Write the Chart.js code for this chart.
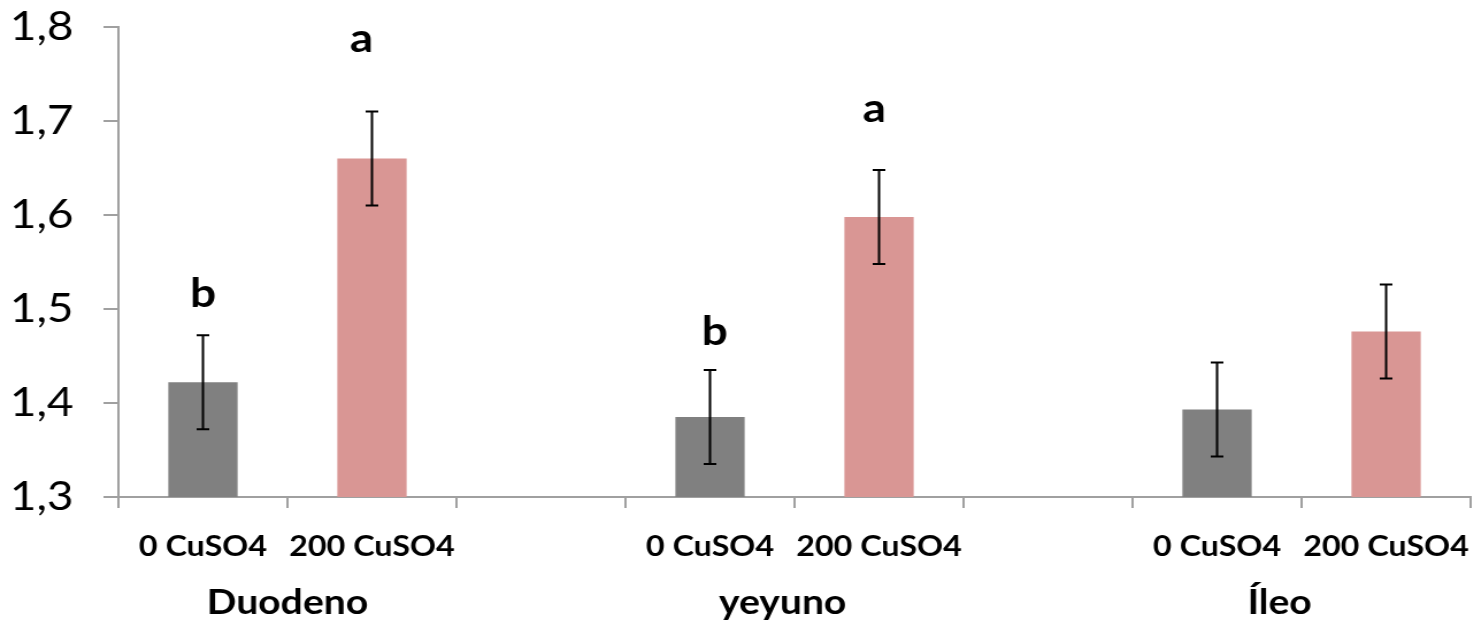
<!DOCTYPE html>
<html>
<head>
<meta charset="utf-8">
<script src="https://cdn.jsdelivr.net/npm/chart.js@4.4.0/dist/chart.umd.min.js"></script>
<style>
  html, body { margin: 0; padding: 0; background: #fff; overflow: hidden; }
  /* the reference is stretched sideways, so the whole chart is too */
  #wrap { width: 1282px; height: 625px; transform: scaleX(1.1498); transform-origin: 0 0; }
</style>
</head>
<body>
<div id="wrap"><canvas id="chart"></canvas></div>
<script>
const segments = ['Duodeno', 'yeyuno', 'Íleo'];
const treatments = ['0 CuSO4', '200 CuSO4'];
const mean0 = [1.422, 1.385, 1.393];
const mean200 = [1.660, 1.598, 1.476];
const err0 = [0.05, 0.05, 0.05];
const err200 = [0.05, 0.05, 0.05];
const letters0 = ['b', 'b', ''];
const letters200 = ['a', 'a', ''];
const yTicks = [1.3, 1.4, 1.5, 1.6, 1.7, 1.8];

const GREY = '#808080';
const PINK = '#D99694';
const AXIS = '#A0A0A0';

// 8 slots: two bars per segment with an empty slot in between
const labels = [], values = [], errors = [], letters = [], colors = [];
segments.forEach((s, i) => {
  if (i > 0) {
    labels.push(''); values.push(null); errors.push(null); letters.push(''); colors.push('transparent');
  }
  labels.push(treatments[0]); values.push(mean0[i]); errors.push(err0[i]); letters.push(letters0[i]); colors.push(GREY);
  labels.push(treatments[1]); values.push(mean200[i]); errors.push(err200[i]); letters.push(letters200[i]); colors.push(PINK);
});

const extras = {
  id: 'extras',
  afterDatasetsDraw(chart, args, opts) {
    const ctx = chart.ctx;
    const x = chart.scales.x, y = chart.scales.y;
    const bars = chart.getDatasetMeta(0).data;
    ctx.save();

    // error bars
    ctx.strokeStyle = '#000';
    ctx.lineWidth = 2;
    bars.forEach((bar, i) => {
      if (values[i] == null) return;
      const hi = y.getPixelForValue(values[i] + errors[i]);
      const lo = y.getPixelForValue(values[i] - errors[i]);
      ctx.beginPath();
      ctx.moveTo(bar.x, hi); ctx.lineTo(bar.x, lo);
      ctx.moveTo(bar.x - opts.cap, hi); ctx.lineTo(bar.x + opts.cap, hi);
      ctx.moveTo(bar.x - opts.cap, lo); ctx.lineTo(bar.x + opts.cap, lo);
      ctx.stroke();
    });

    // significance letters
    ctx.fillStyle = '#000';
    ctx.textAlign = 'center';
    ctx.textBaseline = 'alphabetic';
    ctx.font = 'bold 40px Lato';
    bars.forEach((bar, i) => {
      if (!letters[i]) return;
      const hi = y.getPixelForValue(values[i] + errors[i]);
      ctx.fillText(letters[i], bar.x + (opts.letterDx[i] || 0), hi - (opts.letterLift[i] || 26));
    });

    // segment names under the treatment labels
    ctx.font = 'bold 34px Lato';
    ctx.textBaseline = 'middle';
    segments.forEach((s, i) => {
      ctx.fillText(s, x.getPixelForValue(opts.groupAt[i]), x.bottom + opts.groupGap);
    });
    ctx.restore();
  }
};

new Chart(document.getElementById('chart'), {
  type: 'bar',
  data: {
    labels: labels,
    datasets: [{
      data: values,
      backgroundColor: colors,
      borderWidth: 0,
      barPercentage: 0.41,
      categoryPercentage: 1
    }]
  },
  options: {
    responsive: true,
    maintainAspectRatio: false,
    animation: false,
    layout: { padding: { left: 3, right: 3, top: 27, bottom: 61 } },
    plugins: {
      legend: { display: false },
      tooltip: { enabled: false },
      extras: {
        cap: 5.5,
        letterLift: { 0: 28, 1: 60, 3: 25, 4: 48 },
        letterDx: { 1: -9, 3: 4, 4: -4 },
        groupAt: [0.5, 3.43, 6.37],
        groupGap: 39
      }
    },
    scales: {
      y: {
        min: 1.3,
        max: 1.8,
        afterBuildTicks: s => { s.ticks = yTicks.map(v => ({ value: v })); },
        afterFit: s => { s.width = 100; s.paddingTop = 0; s.paddingBottom = 0; },
        border: { color: AXIS, width: 2 },
        grid: { drawOnChartArea: false, color: AXIS, lineWidth: 2, tickLength: 13 },
        ticks: {
          color: '#000',
          padding: 26,
          font: { family: 'Lato', size: 40 },
          callback: v => v.toFixed(1).replace('.', ',')
        }
      },
      x: {
        afterFit: s => { s.height = 67; s.paddingLeft = 0; s.paddingRight = 0; },
        border: { color: AXIS, width: 2 },
        grid: { drawOnChartArea: false, offset: true, color: AXIS, lineWidth: 2, tickLength: 11 },
        ticks: {
          color: '#000',
          padding: 22,
          maxRotation: 0,
          autoSkip: false,
          font: { family: 'Lato', size: 28, weight: 'bold' }
        }
      }
    }
  },
  plugins: [extras]
});
</script>
</body>
</html>
